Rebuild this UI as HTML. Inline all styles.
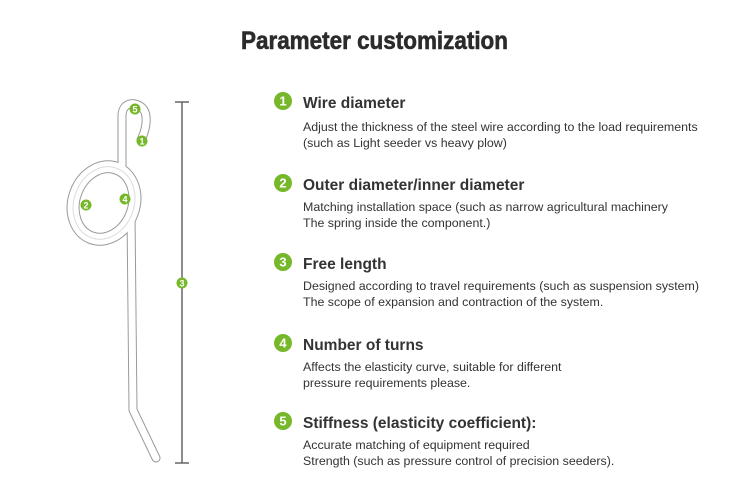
<!DOCTYPE html>
<html><head><meta charset="utf-8"><style>
html,body{margin:0;padding:0;background:#fff;}
svg{display:block;}
</style></head><body>
<svg width="750" height="483" viewBox="0 0 750 483" xmlns="http://www.w3.org/2000/svg" font-family="Liberation Sans, Arial, sans-serif">
<rect width="750" height="483" fill="#fff"/>
<text x="241" y="49" font-size="25" font-weight="bold" fill="#2b2b2b" textLength="267" lengthAdjust="spacingAndGlyphs" stroke="#2b2b2b" stroke-width="0.6">Parameter customization</text>

<!-- spring -->
<g fill="none" stroke-linecap="round" stroke-linejoin="round">
  <g stroke="#9a9a9a" stroke-width="9">
    <ellipse cx="104" cy="203" rx="32" ry="39" transform="rotate(20 104 203)"/>
    <ellipse cx="104" cy="203" rx="28" ry="35" transform="rotate(20 104 203)"/>
    <path d="M141 140 C146 130 150 112 140 106 C132 101 122 104 122 116 L122 172"/>
    <path d="M131 215 L133 410 L156 458"/>
  </g>
  <g stroke="#ffffff" stroke-width="7">
    <ellipse cx="104" cy="203" rx="32" ry="39" transform="rotate(20 104 203)"/>
    <ellipse cx="104" cy="203" rx="28" ry="35" transform="rotate(20 104 203)"/>
    <path d="M141 140 C146 130 150 112 140 106 C132 101 122 104 122 116 L122 172"/>
    <path d="M131 215 L133 410 L156 458"/>
  </g>
  <g stroke="#dcdcdc" stroke-width="1">
    <ellipse cx="104" cy="203" rx="30" ry="37" transform="rotate(20 104 203)"/>
  </g>
</g>
<g stroke="#666" stroke-width="1.5">
  <line x1="182" y1="102" x2="182" y2="463"/>
  <line x1="175" y1="102" x2="189" y2="102"/>
  <line x1="175" y1="463" x2="189" y2="463"/>
</g>
<g font-size="9" font-weight="bold" fill="#fff" text-anchor="middle">
  <circle cx="135" cy="109" r="5.5" fill="#76b82a"/><text x="135" y="112.5">5</text>
  <circle cx="142" cy="141" r="5.5" fill="#76b82a"/><text x="142" y="144.5">1</text>
  <circle cx="86" cy="205" r="5.5" fill="#76b82a"/><text x="86" y="208.5">2</text>
  <circle cx="125" cy="199" r="5.5" fill="#76b82a"/><text x="125" y="202.5">4</text>
  <circle cx="182" cy="283" r="5.5" fill="#76b82a"/><text x="182" y="286.5">3</text>
</g>

<!-- items -->
<g>
  <g font-size="13" font-weight="bold" fill="#fff" text-anchor="middle">
    <circle cx="283" cy="101" r="9" fill="#76b82a"/><text x="283" y="105.5">1</text>
    <circle cx="283" cy="183" r="9" fill="#76b82a"/><text x="283" y="187.5">2</text>
    <circle cx="283" cy="262" r="9" fill="#76b82a"/><text x="283" y="266.5">3</text>
    <circle cx="283" cy="343" r="9" fill="#76b82a"/><text x="283" y="347.5">4</text>
    <circle cx="283" cy="421" r="9" fill="#76b82a"/><text x="283" y="425.5">5</text>
  </g>
  <g font-size="15.5" font-weight="bold" fill="#333">
    <text x="303" y="108">Wire diameter</text>
    <text x="303" y="190">Outer diameter/inner diameter</text>
    <text x="303" y="269">Free length</text>
    <text x="303" y="350">Number of turns</text>
    <text x="303" y="428">Stiffness (elasticity coefficient):</text>
  </g>
  <g font-size="12.4" fill="#333">
    <text x="303" y="131">Adjust the thickness of the steel wire according to the load requirements</text>
    <text x="303" y="147">(such as Light seeder vs heavy plow)</text>
    <text x="303" y="211">Matching installation space (such as narrow agricultural machinery</text>
    <text x="303" y="227">The spring inside the component.)</text>
    <text x="303" y="290">Designed according to travel requirements (such as suspension system)</text>
    <text x="303" y="306">The scope of expansion and contraction of the system.</text>
    <text x="303" y="371">Affects the elasticity curve, suitable for different</text>
    <text x="303" y="387">pressure requirements please.</text>
    <text x="303" y="449">Accurate matching of equipment required</text>
    <text x="303" y="465">Strength (such as pressure control of precision seeders).</text>
  </g>
</g>
</svg>
</body></html>
